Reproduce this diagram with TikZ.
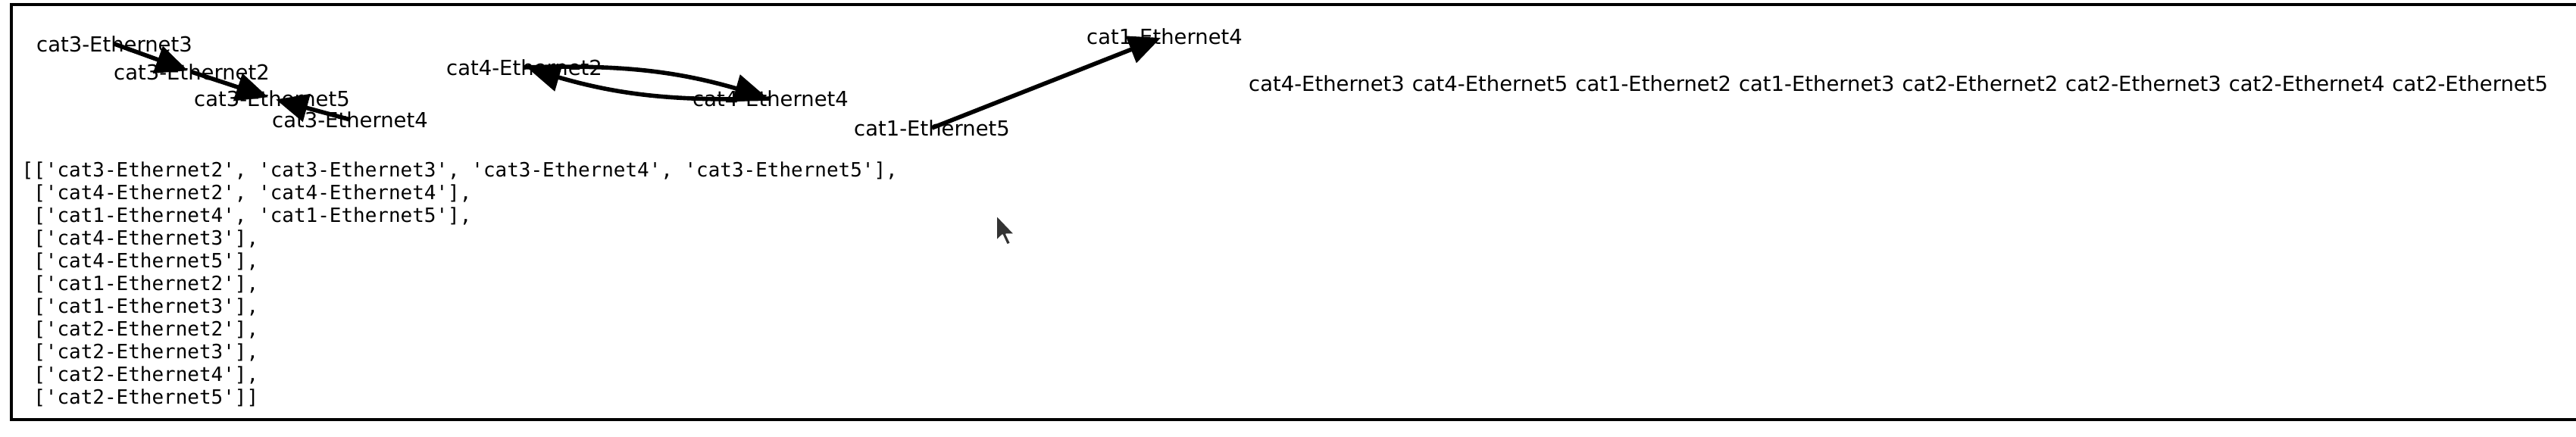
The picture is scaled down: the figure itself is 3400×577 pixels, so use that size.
\documentclass[tikz,border=0pt]{standalone}
\usepackage{fontspec}
\setsansfont{DejaVu Sans}
\setmonofont{DejaVu Sans Mono}
\usetikzlibrary{arrows.meta}
\tikzset{
  lbl/.style={font=\sffamily\fontsize{7.8}{9}\selectfont, inner sep=0pt},
  codeline/.style={font=\ttfamily\fontsize{7.38}{8.5}\selectfont, inner sep=0pt, anchor=west},
  edgearrow/.style={line width=1.6pt, -{Triangle[length=12pt,width=10.5pt]}, shorten >=1.5pt},
  frameline/.style={line width=1.14pt},
}
\begin{document}
\begin{tikzpicture}[x=0.01cm, y=-0.01cm]
\useasboundingbox (0,0) rectangle (3400,577);
\clip (0,0) rectangle (3400,577);
\fill[white] (0,0) rectangle (3400,577);
\draw[frameline] (15,6) rectangle (3420,554.5);

% graph nodes
\node[lbl] (e33) at (151,58) {cat3-Ethernet3};
\node[lbl] (e32) at (253,95) {cat3-Ethernet2};
\node[lbl] (e35) at (359,130) {cat3-Ethernet5};
\node[lbl] (e34) at (462,158) {cat3-Ethernet4};
\node[lbl] (c42) at (692,89) {cat4-Ethernet2};
\node[lbl] (c44) at (1017,130) {cat4-Ethernet4};
\node[lbl] (c14) at (1537,48) {cat1-Ethernet4};
\node[lbl] (c15) at (1230,169) {cat1-Ethernet5};

\node[lbl] (r1) at (1751,110) {cat4-Ethernet3};
\node[lbl] (r2) at (1966.6,110) {cat4-Ethernet5};
\node[lbl] (r3) at (2182.2,110) {cat1-Ethernet2};
\node[lbl] (r4) at (2397.8,110) {cat1-Ethernet3};
\node[lbl] (r5) at (2613.4,110) {cat2-Ethernet2};
\node[lbl] (r6) at (2829,110) {cat2-Ethernet3};
\node[lbl] (r7) at (3044.6,110) {cat2-Ethernet4};
\node[lbl] (r8) at (3260.2,110) {cat2-Ethernet5};

% edges
\draw[edgearrow] (e33.center) -- (e32.center);
\draw[edgearrow] (e32.center) -- (e35.center);
\draw[edgearrow] (e34.center) -- (e35.center);
\draw[edgearrow] (c42.center) to[bend left=9] (c44.center);
\draw[edgearrow] (c44.center) to[bend left=9] (c42.center);
\draw[edgearrow] (c15.center) -- (c14.center);

% printed list
\node[codeline] (l1) at (28,225.5) {[['cat3-Ethernet2', 'cat3-Ethernet3', 'cat3-Ethernet4', 'cat3-Ethernet5'],};
\node[codeline] (l2) at (28,255.5) {\phantom{[}['cat4-Ethernet2', 'cat4-Ethernet4'],};
\node[codeline] (l3) at (28,285.5) {\phantom{[}['cat1-Ethernet4', 'cat1-Ethernet5'],};
\node[codeline] (l4) at (28,315.5) {\phantom{[}['cat4-Ethernet3'],};
\node[codeline] (l5) at (28,345.5) {\phantom{[}['cat4-Ethernet5'],};
\node[codeline] (l6) at (28,375.5) {\phantom{[}['cat1-Ethernet2'],};
\node[codeline] (l7) at (28,405.5) {\phantom{[}['cat1-Ethernet3'],};
\node[codeline] (l8) at (28,435.5) {\phantom{[}['cat2-Ethernet2'],};
\node[codeline] (l9) at (28,465.5) {\phantom{[}['cat2-Ethernet3'],};
\node[codeline] (l10) at (28,495.5) {\phantom{[}['cat2-Ethernet4'],};
\node[codeline] (l11) at (28,525.5) {\phantom{[}['cat2-Ethernet5']]};

% mouse pointer
\filldraw[fill=black!80, draw=white, line width=0.5pt, line join=round]
  (1315,284) -- ++(0,34) -- ++(8,-7.7) -- ++(6,13) -- ++(5,-2.1) -- ++(-5.9,-12) -- ++(11,0) -- cycle;
\end{tikzpicture}
\end{document}
